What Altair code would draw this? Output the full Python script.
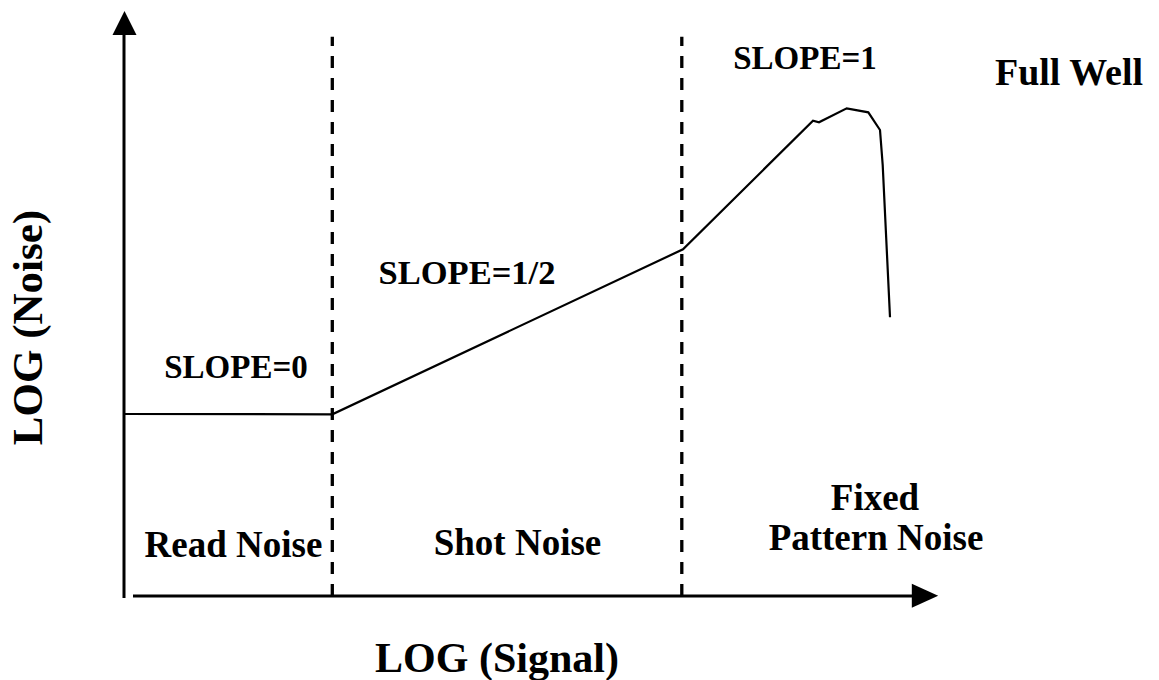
import altair as alt
import pandas as pd

# Coordinate system: x = log(signal) units, y = log(noise) units (origin at axes corner)
curve_x = [0.0, 20.83, 55.9, 68.9, 69.5, 72.27, 74.43, 75.6, 75.87, 76.6]
curve_y = [18.2, 18.17, 34.67, 47.53, 47.37, 48.77, 48.37, 46.6, 43.1, 27.87]

divider_x = [20.83, 55.78]
divider_top = 55.93

yaxis_x = [0.0, 0.0]
yaxis_y = [-0.2, 56.2]
xaxis_x = [0.9, 78.8]
xaxis_y = [0.0, 0.0]

arrow_up = {"x": 0.05, "y": 57.3}
arrow_right = {"x": 80.1, "y": 0.03}

slope_labels = ["SLOPE=1", "SLOPE=1/2", "SLOPE=0"]
slope_x = [68.1, 34.3, 11.2]
slope_y = [52.7, 31.17, 21.77]
slope_size = [33, 34.5, 33]

region_labels = ["Full Well", "Read Noise", "Shot Noise", "Fixed", "Pattern Noise"]
region_x = [94.5, 10.95, 39.35, 75.1, 75.2]
region_y = [51.1, 3.93, 4.1, 8.6, 4.6]
region_size = [38, 37, 37, 37, 37]

x_title = "LOG (Signal)"
y_title = "LOG (Noise)"

XD = [-11.6, 102.7]
YD = [-8.4, 58.8]

xs = alt.Scale(domain=XD, nice=False, zero=False)
ys = alt.Scale(domain=YD, nice=False, zero=False)

def X(f="x"):
    return alt.X(f"{f}:Q", scale=xs, axis=None)

def Y(f="y"):
    return alt.Y(f"{f}:Q", scale=ys, axis=None)

curve_df = pd.DataFrame({"x": curve_x, "y": curve_y, "o": list(range(len(curve_x)))})
curve = alt.Chart(curve_df).mark_line(color="black", strokeWidth=2.2, strokeJoin="miter").encode(
    x=X(), y=Y(), order="o:Q")

div_df = pd.DataFrame({"x": divider_x, "y": [0.0, 0.0], "y2": [divider_top, divider_top]})
dividers = alt.Chart(div_df).mark_rule(color="black", strokeWidth=3.3, strokeDash=[12, 10]).encode(
    x=X(), y=Y(), y2="y2:Q")

yax_df = pd.DataFrame({"x": yaxis_x, "y": yaxis_y, "o": [0, 1]})
yax = alt.Chart(yax_df).mark_line(color="black", strokeWidth=3).encode(x=X(), y=Y(), order="o:Q")
xax_df = pd.DataFrame({"x": xaxis_x, "y": xaxis_y, "o": [0, 1]})
xax = alt.Chart(xax_df).mark_line(color="black", strokeWidth=3).encode(x=X(), y=Y(), order="o:Q")

up_df = pd.DataFrame([arrow_up])
up = alt.Chart(up_df).mark_point(shape="M0,-1L1,1L-1,1Z", size=576, filled=True, color="black", opacity=1).encode(
    x=X(), y=Y())
right_df = pd.DataFrame([arrow_right])
right = alt.Chart(right_df).mark_point(shape="M1.1,0L-1.1,-1L-1.1,1Z", size=576, filled=True, color="black", opacity=1).encode(
    x=X(), y=Y())

slope_df = pd.DataFrame({"t": slope_labels, "x": slope_x, "y": slope_y, "s": slope_size})
slopes = alt.Chart(slope_df).mark_text(font="Liberation Serif", fontWeight="bold",
                                       align="center", baseline="alphabetic", color="black").encode(
    x=X(), y=Y(), text="t:N", size=alt.Size("s:Q", scale=None, legend=None))

region_df = pd.DataFrame({"t": region_labels, "x": region_x, "y": region_y, "s": region_size})
regions = alt.Chart(region_df).mark_text(font="Liberation Serif", fontWeight="bold",
                                         align="center", baseline="alphabetic", color="black").encode(
    x=X(), y=Y(), text="t:N", size=alt.Size("s:Q", scale=None, legend=None))

xt_df = pd.DataFrame({"t": [x_title], "x": [37.3], "y": [-7.6]})
xt = alt.Chart(xt_df).mark_text(font="Liberation Serif", fontWeight="bold", fontSize=42,
                                align="center", baseline="alphabetic", color="black").encode(
    x=X(), y=Y(), text="t:N")

yt_df = pd.DataFrame({"t": [y_title], "x": [-8.2], "y": [26.85]})
yt = alt.Chart(yt_df).mark_text(font="Liberation Serif", fontWeight="bold", fontSize=43, angle=270,
                                align="center", baseline="alphabetic", color="black").encode(
    x=X(), y=Y(), text="t:N")

chart = alt.layer(dividers, curve, yax, xax, up, right, slopes, regions, xt, yt).properties(
    width=1143, height=672, padding=0,
    autosize=alt.AutoSizeParams(type="none"),
).configure_view(stroke=None)

chart.save("out.html", embed_options={"renderer": "svg", "actions": False})
